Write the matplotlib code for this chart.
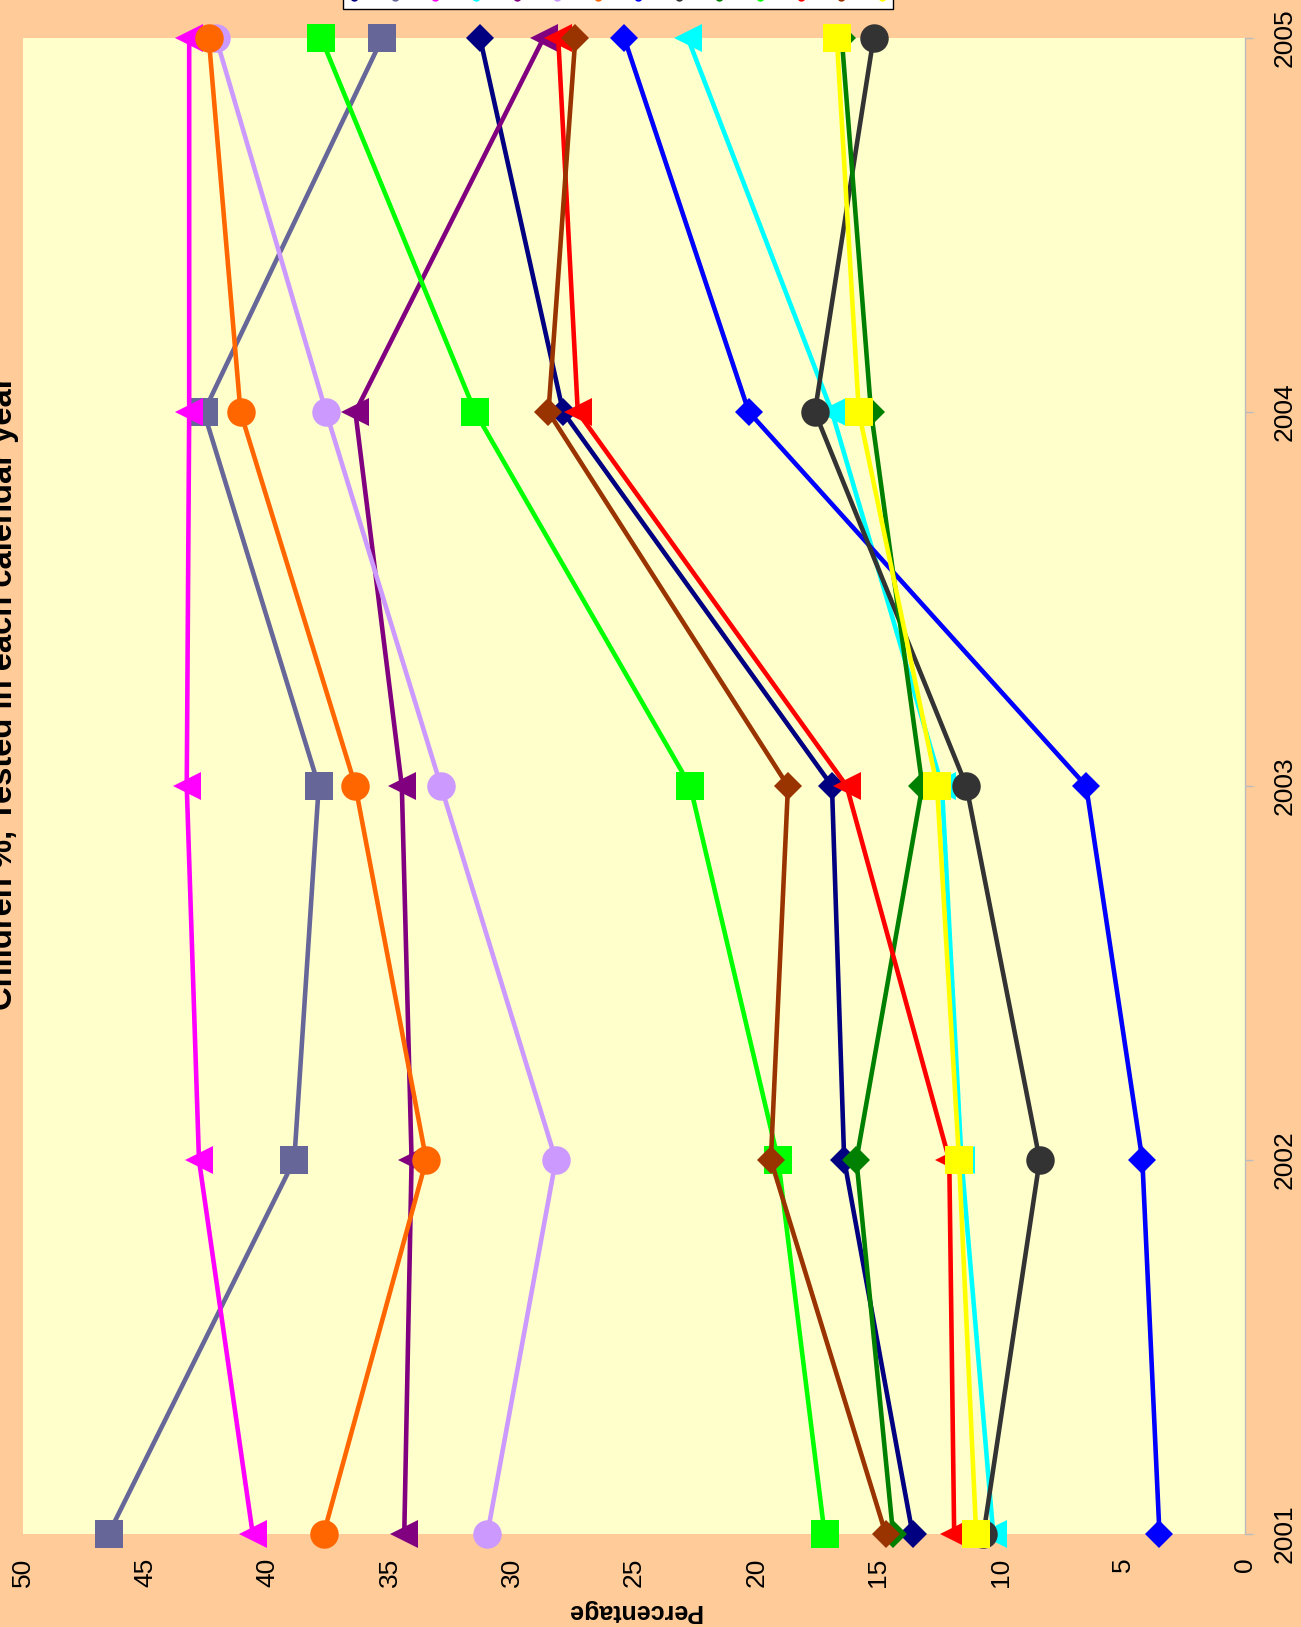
import matplotlib
matplotlib.use('Agg')
import matplotlib.pyplot as plt
from matplotlib.lines import Line2D

plt.rcParams['font.family'] = ['Liberation Sans', 'DejaVu Sans']

years = [2001, 2002, 2003, 2004, 2005]

# series, in legend order
navy = [13.6, 16.4, 16.9, 27.9, 31.3]
slate = [46.5, 38.9, 37.9, 42.6, 35.3]
magenta = [40.6, 42.8, 43.3, 43.2, 43.2]
cyan = [10.3, 11.6, 12.4, 16.9, 22.8]
purple = [34.4, 34.1, 34.5, 36.4, 28.7]
lavender = [31.0, 28.2, 32.9, 37.6, 42.1]
orange = [37.7, 33.5, 36.4, 41.1, 42.4]
blue = [3.5, 4.2, 6.5, 20.3, 25.4]
darkgray = [10.7, 8.4, 11.4, 17.6, 15.2]
green = [14.4, 15.9, 13.2, 15.3, 16.5]
lime = [17.2, 19.1, 22.7, 31.5, 37.8]
red = [11.9, 12.1, 16.3, 27.3, 28.1]
brown = [14.7, 19.4, 18.7, 28.5, 27.4]
yellow = [11.0, 11.7, 12.6, 15.8, 16.7]

series = [navy, slate, magenta, cyan, purple, lavender, orange,
          blue, darkgray, green, lime, red, brown, yellow]
colors = ['#000080', '#666699', '#FF00FF', '#00FFFF', '#800080', '#CC99FF', '#FF6600',
          '#0000FF', '#333333', '#008000', '#00FF00', '#FF0000', '#993300', '#FFFF00']
markers = ['D', 's', '<', '<', '<', 'o', 'o', 'D', 'o', 'D', 's', '<', 'D', 's']
msizes = {'D': 14.5, 's': 20, '<': 20, 'o': 20.5}

title = 'Children %, Tested in each calendar year'

W, H = 1301, 1627
fig = plt.figure(figsize=(W / 100, H / 100), dpi=100, facecolor='#FFCC99')
ax = fig.add_axes([23 / W, 1 - 1534 / H, 1222 / W, 1496 / H], facecolor='#FFFFCC')

for vals, c, m in zip(series, colors, markers):
    ax.plot(vals, years, color=c, lw=3.3, marker=m, ms=msizes[m],
            markeredgewidth=0, clip_on=False)

ax.set_xlim(50, 0)
ax.set_ylim(2001, 2005)
ax.set_xticks(range(0, 51, 5))
ax.set_yticks(years)
ax.yaxis.tick_right()
ax.tick_params(axis='x', length=0, pad=17, labelsize=19, labelrotation=90)
ax.tick_params(axis='y', direction='out', length=5.8, color='#BBBBBB', width=1,
               pad=14, labelsize=19, labelrotation=90)
for lab in ax.get_yticklabels():
    lab.set_va('center')
for s in ['top', 'bottom', 'left']:
    ax.spines[s].set_visible(False)
ax.spines['right'].set_color('#BBBBBB')
ax.spines['right'].set_linewidth(1)

fig.text(19 / W, 1 - 693 / H, title, rotation=90, ha='right', va='center',
         fontsize=23.6, fontweight='bold')
fig.text(634 / W, 1 - 1611 / H, 'Percentage', rotation=180, ha='center', va='center',
         fontsize=18, fontweight='bold')

handles = [Line2D([0], [0], color=c, marker='o', ms=5, linestyle='none') for c in colors]
leg = fig.legend(handles, [''] * len(handles), ncol=len(handles), loc='lower left',
                 bbox_to_anchor=(343 / W, 1 - 9 / H, 550 / W, 0.05), mode='expand',
                 borderaxespad=0, handlelength=1, handletextpad=0, fontsize=10,
                 fancybox=False, framealpha=1, facecolor='white', edgecolor='black',
                 borderpad=0.3)
leg.get_frame().set_linewidth(1)

fig.savefig('out.png', dpi=100, facecolor=fig.get_facecolor())
